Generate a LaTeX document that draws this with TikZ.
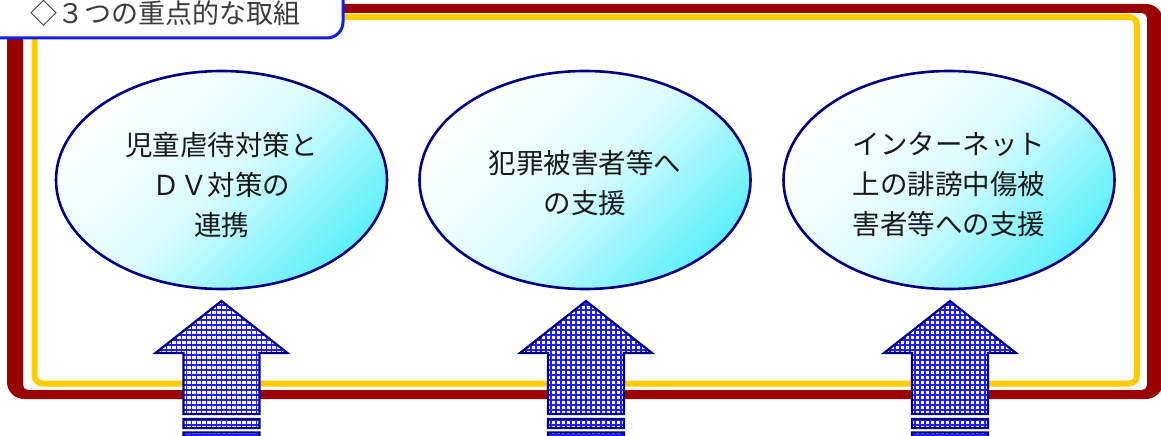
\documentclass[tikz,border=0pt]{standalone}
\usepackage{fontspec}
\newfontfamily\jp{Noto Sans CJK JP}
\usetikzlibrary{shapes.geometric}
\definecolor{dred}{RGB}{153,0,0}
\definecolor{gold}{RGB}{255,204,0}
\definecolor{navy}{RGB}{0,0,128}
\definecolor{ecyan}{RGB}{95,240,250}
\definecolor{tblue}{RGB}{20,30,235}
\definecolor{txt}{RGB}{25,25,25}
\definecolor{gridblue}{RGB}{30,30,255}
\newcommand\arrowpath{(0,301) -- (66,353) -- (38,353) -- (38,414) -- (-38,414)
      -- (-38,353) -- (-66,353) -- cycle (-38,419) rectangle (38,428)
      (-38,432.5) rectangle (38,442)}
\begin{document}
\begin{tikzpicture}[x=1pt,y=-1pt,
  bubble/.style={ellipse, draw=navy, line width=2.6pt, top color=white,
    bottom color=ecyan, middle color=ecyan!22!white, shading angle=45,
    minimum width=331pt, minimum height=218pt, inner sep=0pt, outer sep=0pt},
  bubtext/.style={align=center, text=txt, font=\jp\fontsize{27.5}{40}\selectfont},
  arrowline/.style={draw=navy, line width=2.2pt, line join=miter},
  gridline/.style={draw=gridblue, line width=1.5pt},
  uparr/.pic={
    \begin{scope}
      \clip \arrowpath;
      \fill[white] (-70,295) rectangle (70,445);
      \draw[gridline] (-70,296) grid[step=5pt] (70,446);
    \end{scope}
    \draw[arrowline] \arrowpath;
  }]
\useasboundingbox (0,0) rectangle (1161,436);
\clip (0,0) rectangle (1161,436);
% outer dark red frame
\fill[dred, even odd rule] [rounded corners=17pt] (7,4) rectangle (1163,399)
  [rounded corners=5pt] (23,13) rectangle (1147,390);
% inner gold frame
\draw[gold, line width=6pt, rounded corners=8pt] (34.5,17) rectangle (1137,383.5);
% title box
\draw[tblue, line width=3pt, fill=white, rounded corners=16pt] (-20,-20) rectangle (343,38);
\node[text=txt!85!white, font=\jp\fontsize{27}{30}\selectfont] (ttl) at (165,13) {◇３つの重点的な取組};
% ellipses
\node[bubble] (e1) at (221.5,180) {};
\node[bubble] (e2) at (585,180) {};
\node[bubble] (e3) at (949,180) {};
\node[bubtext] (t1) at (221.5,185) {児童虐待対策と\\ＤＶ対策の\\連携};
\node[bubtext] (t2) at (585,183) {犯罪被害者等へ\\の支援};
\node[bubtext] (t3) at (949,184) {インターネット\\上の誹謗中傷被\\害者等への支援};
% arrows
\pic at (221.5,0) {uparr};
\pic at (586,0) {uparr};
\pic at (950,0) {uparr};
\end{tikzpicture}
\end{document}
